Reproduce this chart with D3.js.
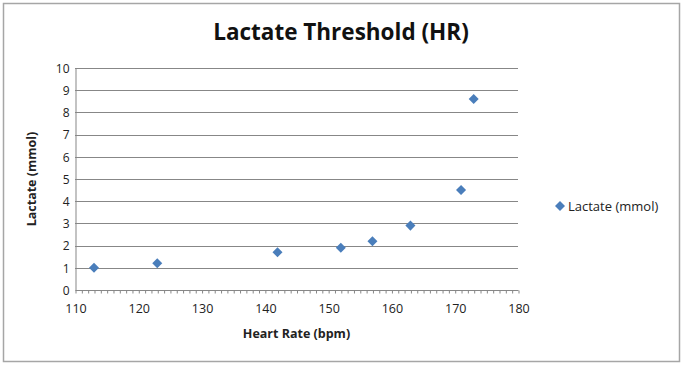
<!DOCTYPE html>
<html>
<head>
<meta charset="utf-8">
<script src="https://cdn.jsdelivr.net/npm/d3@7"></script>
<style>
  body { margin: 0; background: #fff; }
  text { font-family: "Open Sans", "Noto Sans", sans-serif; }
</style>
</head>
<body>
<script>
// data
const heartRate = [113, 123, 142, 152, 157, 163, 171, 173];
const lactate = [1.0, 1.2, 1.7, 1.9, 2.2, 2.9, 4.5, 8.6];
const xTicks = [110, 120, 130, 140, 150, 160, 170, 180];
const yTicks = [0, 1, 2, 3, 4, 5, 6, 7, 8, 9, 10];
const seriesName = "Lactate (mmol)";

const width = 700, height = 372;
const margin = {top: 68, right: 182, bottom: 82, left: 75};
const blue = "#4a7ebb";

const data = heartRate.map((h, i) => ({hr: h, lac: lactate[i]}));

const svg = d3.select("body").append("svg")
    .attr("width", width)
    .attr("height", height);

// chart frame
svg.append("rect")
    .attr("x", 3.5).attr("y", 3.5)
    .attr("width", 676).attr("height", 358)
    .attr("fill", "#fff")
    .attr("stroke", "#a6a6a6")
    .attr("stroke-width", 1.5);

const x = d3.scaleLinear()
    .domain([110, 180])
    .range([margin.left, width - margin.right]);

const y = d3.scaleLinear()
    .domain([0, 10])
    .range([height - margin.bottom, margin.top]);

// gridlines
svg.append("g")
  .selectAll("line")
  .data(yTicks.slice(1))
  .join("line")
    .attr("x1", x(110)).attr("x2", x(180))
    .attr("y1", d => Math.round(y(d)) + 0.5)
    .attr("y2", d => Math.round(y(d)) + 0.5)
    .attr("stroke", "#878787");

// y axis
const yAxis = g => g
    .attr("transform", `translate(${x(110) + 0.5},0.5)`)
    .call(d3.axisLeft(y).tickValues(yTicks).tickSize(0).tickPadding(6))
    .call(g => g.select(".domain").attr("stroke", "#878787"))
    .call(g => g.selectAll("text")
        .attr("fill", "#222")
        .style("font-size", "12px"));

svg.append("g").call(yAxis);

// x axis with minor ticks every 1 bpm
svg.append("g")
    .attr("transform", `translate(0.5,${y(0) + 0.5})`)
    .call(d3.axisBottom(x).tickValues(d3.range(110, 181, 1)).tickSize(3).tickFormat(""))
    .call(g => g.selectAll("line").attr("stroke", "#878787"))
    .call(g => g.select(".domain").attr("stroke", "#878787").attr("d", `M${x(110)},0H${x(180)}`));

svg.append("g")
    .attr("transform", `translate(0.5,${y(0) + 0.5})`)
    .call(d3.axisBottom(x).tickValues(xTicks).tickSize(0).tickPadding(14))
    .call(g => g.select(".domain").remove())
    .call(g => g.selectAll("text")
        .attr("fill", "#222")
        .style("font-size", "12.5px"));

// points
const diamond = d3.symbol().type(d3.symbolDiamond2).size(64);

svg.append("g")
  .selectAll("path")
  .data(data)
  .join("path")
    .attr("d", diamond)
    .attr("transform", d => `translate(${x(d.hr)},${y(d.lac)})`)
    .attr("fill", blue);

// title
svg.append("text")
    .attr("x", 341)
    .attr("y", 40)
    .attr("text-anchor", "middle")
    .style("font-size", "22.5px")
    .style("font-weight", "bold")
    .attr("fill", "#111")
    .text("Lactate Threshold (HR)");

// axis titles
svg.append("text")
    .attr("x", (x(110) + x(180)) / 2)
    .attr("y", 338)
    .attr("text-anchor", "middle")
    .style("font-size", "12.5px")
    .style("font-weight", "bold")
    .attr("fill", "#222")
    .text("Heart Rate (bpm)");

svg.append("text")
    .attr("transform", `translate(36,${(y(0) + y(10)) / 2}) rotate(-90)`)
    .attr("text-anchor", "middle")
    .style("font-size", "12.5px")
    .style("font-weight", "bold")
    .attr("fill", "#222")
    .text("Lactate (mmol)");

// legend
const legend = svg.append("g").attr("transform", "translate(560,206)");
legend.append("path")
    .attr("d", diamond)
    .attr("fill", blue);
legend.append("text")
    .attr("x", 8)
    .attr("dy", "0.35em")
    .style("font-size", "13px")
    .attr("fill", "#222")
    .text(seriesName);
</script>
</body>
</html>
